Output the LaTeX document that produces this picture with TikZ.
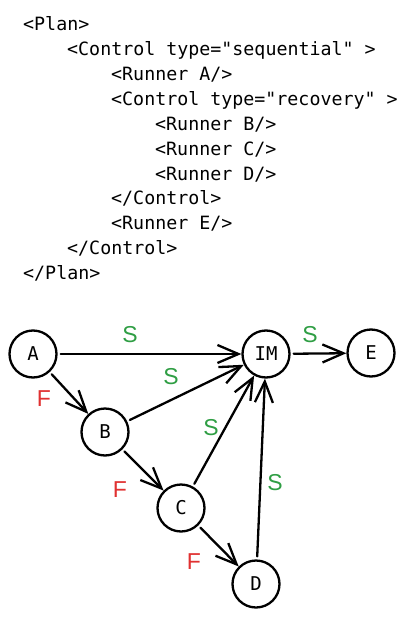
\documentclass[tikz,border=0pt]{standalone}
\usepackage{fontspec}
\setmainfont{Liberation Sans}
\setmonofont{DejaVu Sans Mono}
\usetikzlibrary{arrows.meta}
\definecolor{okgreen}{HTML}{2F9E44}
\definecolor{failred}{HTML}{E03131}
\begin{document}
\begin{tikzpicture}[x=1pt,y=-1pt,
    code/.style={anchor=base west, inner sep=0pt, font=\ttfamily\fontsize{18.3}{18.3}\selectfont},
    state/.style={circle, draw, line width=2.3pt, minimum size=47pt, inner sep=0pt, font=\ttfamily\fontsize{19}{19}\selectfont},
    arr/.style={-{Straight Barb[length=21pt,width=18pt]}, line width=2.3pt, line cap=round, shorten <=3pt},
    ok/.style={text=okgreen, font=\fontsize{23}{23}\selectfont},
    fail/.style={text=failred, font=\fontsize{23}{23}\selectfont}]
        \useasboundingbox (0,0) rectangle (407,618);

        % Piano XML
        \node[code] (l1) at (23,31) {<Plan>};
        \node[code] (l2) at (67,56) {<Control type="sequential" >};
        \node[code] (l3) at (111,80) {<Runner A/>};
        \node[code] (l4) at (111,105) {<Control type="recovery" >};
        \node[code] (l5) at (155,130) {<Runner B/>};
        \node[code] (l6) at (155,155) {<Runner C/>};
        \node[code] (l7) at (155,180) {<Runner D/>};
        \node[code] (l8) at (111,204) {</Control>};
        \node[code] (l9) at (111,229) {<Runner E/>};
        \node[code] (l10) at (67,254) {</Control>};
        \node[code] (l11) at (23,279) {</Plan>};

        % Grafo
        \node[state] (a) at (33,354) {A};
        \node[state] (im) at (266,354) {IM};
        \node[state] (e) at (371,353) {E};
        \node[state] (b) at (105,432) {B};
        \node[state] (c) at (181,508) {C};
        \node[state] (d) at (256,584) {D};

        \draw[arr] (a) -- (im);
        \draw[arr] (im) -- (e);
        \draw[arr] (a) -- (b);
        \draw[arr] (b) -- (im);
        \draw[arr] (b) -- (c);
        \draw[arr] (c) -- (im);
        \draw[arr] (c) -- (d);
        \draw[arr] (d) -- (im);

        % Etichette
        \node[ok] (s1) at (130,335) {S};
        \node[ok] (s2) at (310,335) {S};
        \node[ok] (s3) at (171,377) {S};
        \node[ok] (s4) at (211,428) {S};
        \node[ok] (s5) at (275,483) {S};
        \node[fail] (f1) at (44,399) {F};
        \node[fail] (f2) at (120,490) {F};
        \node[fail] (f3) at (194,562) {F};
    \end{tikzpicture}
\end{document}
